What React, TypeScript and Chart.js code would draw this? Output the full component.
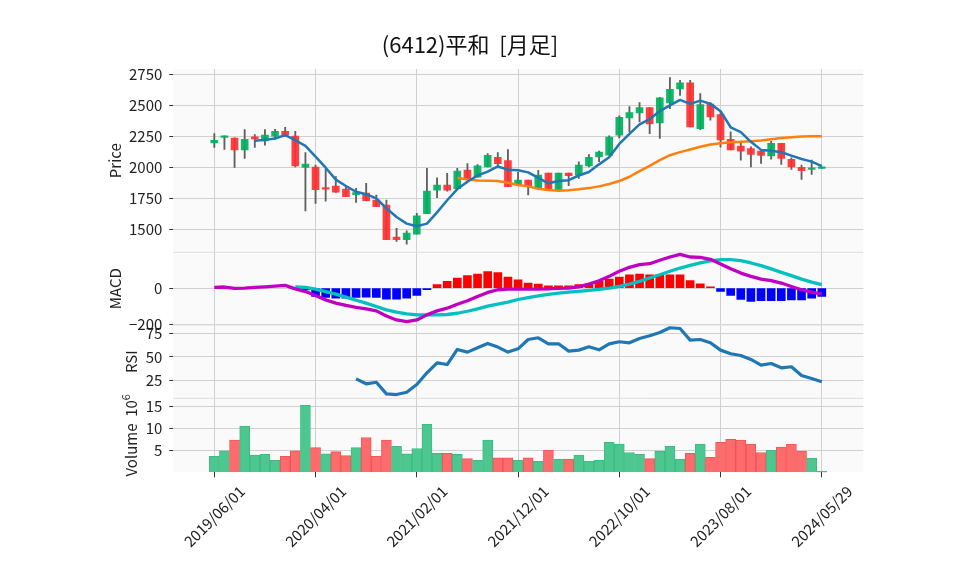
import React, { useEffect, useRef } from 'react';
import { Chart, registerables } from 'chart.js';

Chart.register(...registerables);

const TITLE = '(6412)平和  [月足]';
const xTickIndex = [0, 10, 20, 30, 40, 50, 60];
const xTickLabels = ['2019/06/01', '2020/04/01', '2021/02/01', '2021/12/01', '2022/10/01', '2023/08/01', '2024/05/29'];

const opens = [2199, 2242, 2237, 2142, 2247, 2215, 2253, 2293, 2253, 2000, 2003, 1833, 1849, 1825, 1780, 1793, 1737, 1696, 1438, 1417, 1460, 1626, 1817, 1858, 1828, 1978, 1922, 2005, 2081, 2056, 1858, 1898, 1836, 1954, 1817, 1954, 1938, 2013, 2086, 2099, 2261, 2401, 2441, 2484, 2360, 2521, 2634, 2685, 2314, 2513, 2427, 2228, 2172, 2153, 2132, 2094, 2196, 2065, 2000, 1984, 1992];
const highs = [2274, 2255, 2240, 2306, 2266, 2306, 2309, 2325, 2293, 2121, 2019, 1987, 1927, 1844, 1831, 1871, 1777, 1737, 1508, 1487, 1629, 1992, 1917, 1952, 1992, 2032, 2024, 2113, 2121, 2145, 1960, 1898, 1976, 1954, 1954, 1954, 2046, 2105, 2132, 2255, 2417, 2492, 2524, 2484, 2567, 2726, 2704, 2704, 2597, 2524, 2444, 2288, 2212, 2167, 2132, 2212, 2196, 2078, 2019, 2059, 2005];
const lows = [2161, 2145, 2000, 2073, 2161, 2180, 2228, 2250, 2005, 1648, 1710, 1728, 1798, 1763, 1718, 1731, 1683, 1417, 1401, 1379, 1460, 1626, 1755, 1809, 1828, 1909, 1922, 2005, 1997, 1844, 1858, 1777, 1836, 1817, 1817, 1852, 1911, 2005, 2046, 2099, 2239, 2288, 2368, 2274, 2234, 2476, 2583, 2328, 2306, 2382, 2164, 2142, 2059, 2005, 2032, 2067, 2024, 1984, 1903, 1944, 1992];
const closes = [2220, 2255, 2142, 2228, 2231, 2261, 2293, 2263, 2013, 2027, 1820, 1825, 1801, 1763, 1796, 1731, 1683, 1417, 1417, 1470, 1608, 1809, 1858, 1817, 1970, 1909, 2013, 2099, 2030, 1844, 1898, 1844, 1938, 1817, 1954, 1933, 2019, 2081, 2124, 2245, 2406, 2444, 2484, 2352, 2562, 2632, 2685, 2328, 2508, 2409, 2223, 2142, 2132, 2105, 2097, 2196, 2073, 2005, 1973, 1995, 2005];

const ma5: (number | null)[] = [null, null, null, null, 2215, 2223, 2234, 2261, 2220, 2175, 2088, 1998, 1902, 1850, 1803, 1784, 1750, 1670, 1600, 1546, 1525, 1546, 1637, 1735, 1825, 1885, 1935, 1966, 2008, 1982, 1978, 1960, 1915, 1872, 1891, 1897, 1935, 1963, 2025, 2083, 2190, 2272, 2348, 2390, 2456, 2502, 2546, 2514, 2540, 2514, 2455, 2325, 2285, 2207, 2142, 2135, 2123, 2096, 2068, 2047, 2010];
const ma25: (number | null)[] = [null, null, null, null, null, null, null, null, null, null, null, null, null, null, null, null, null, null, null, null, null, null, null, null, 1917, 1903, 1895, 1892, 1890, 1876, 1858, 1847, 1828, 1817, 1812, 1815, 1823, 1833, 1847, 1866, 1890, 1925, 1970, 2013, 2059, 2099, 2124, 2145, 2167, 2185, 2196, 2204, 2207, 2212, 2218, 2228, 2239, 2245, 2250, 2253, 2253];

const volumes = [3.6, 4.9, 7.3, 10.5, 3.9, 4.1, 2.7, 3.6, 4.9, 15.2, 5.6, 4.2, 4.7, 3.8, 5.6, 7.9, 3.6, 7.3, 5.9, 4.2, 5.4, 10.9, 4.3, 4.3, 4.1, 3.1, 2.7, 7.3, 3.3, 3.3, 2.7, 3.3, 2.5, 5.0, 3.0, 3.0, 3.9, 2.5, 2.7, 6.8, 6.4, 4.5, 4.1, 3.1, 4.8, 5.9, 3.0, 4.3, 6.4, 3.4, 6.8, 7.5, 7.3, 6.4, 4.5, 5.0, 5.7, 6.4, 4.8, 3.2, 0.2];
const volumeUp = [1, 1, 0, 1, 1, 1, 1, 0, 0, 1, 0, 1, 0, 0, 1, 0, 0, 0, 1, 1, 1, 1, 1, 0, 1, 0, 1, 1, 0, 0, 1, 0, 1, 0, 1, 0, 1, 1, 1, 1, 1, 1, 1, 0, 1, 1, 1, 0, 1, 0, 0, 0, 0, 0, 0, 1, 0, 0, 0, 1, 1];

const macdLine: (number | null)[] = [4, 6, -2, 0, 4, 7, 11, 15, -4, -19, -41, -65, -83, -96, -107, -115, -126, -154, -176, -185, -176, -148, -126, -111, -89, -70, -46, -24, -9, -6, -6, -6, -6, -4, -2, 0, 7, 22, 41, 65, 93, 115, 130, 135, 154, 172, 187, 172, 170, 159, 133, 107, 83, 65, 50, 41, 28, 9, -9, -22, -33];
const signalLine: (number | null)[] = [null, null, null, null, null, null, null, null, 7, 4, -6, -19, -33, -50, -67, -83, -102, -120, -133, -143, -148, -148, -148, -146, -139, -128, -115, -100, -88, -78, -63, -52, -43, -35, -28, -22, -18, -13, -7, 0, 9, 22, 37, 56, 74, 93, 111, 126, 139, 150, 157, 157, 152, 139, 124, 106, 87, 69, 50, 33, 19];
const macdHist: (number | null)[] = [null, null, null, null, null, null, null, null, -2, -10, -46, -52, -56, -56, -52, -50, -52, -61, -61, -56, -41, -9, 19, 37, 56, 69, 78, 92, 86, 61, 46, 28, 22, 13, 13, 13, 19, 24, 37, 50, 61, 74, 78, 74, 74, 74, 74, 41, 24, 7, -19, -41, -63, -74, -70, -70, -69, -65, -65, -56, -46];
const rsi: (number | null)[] = [null, null, null, null, null, null, null, null, null, null, null, null, null, null, 26.6, 21.3, 23.0, 10.6, 9.9, 12.4, 20.6, 33.0, 43.6, 41.8, 57.8, 55.0, 59.6, 64.2, 60.3, 55.0, 58.5, 68.4, 70.2, 63.8, 63.8, 56.0, 57.1, 60.6, 57.4, 63.8, 66.0, 64.9, 69.5, 72.3, 75.9, 80.9, 80.1, 67.7, 68.4, 64.9, 57.1, 53.2, 51.4, 47.2, 41.1, 42.9, 38.3, 39.4, 30.1, 27.0, 23.4];

const priceTicks = [1500, 1750, 2000, 2250, 2500, 2750];
const macdTicks = [-200, 0];
const rsiTicks = [25, 50, 75];
const volumeTicks = [5, 10, 15];

const W = 958;
const H = 575;
const PLOT_LEFT = 173.3;
const PLOT_RIGHT = 863.3;
const PLOT_TOP = 69;
const PLOT_BOTTOM = 472.3;
const X_MIN = -4.05;
const X_MAX = 64.1;

const FONT = '"Noto Sans CJK JP", "Noto Sans", sans-serif';
const TICK_SIZE = 15;
const FACE = '#fafafa';
const GRID = '#d0d0d0';
const TICKC = '#333333';
const TEXT = '#222222';
const UP = 'rgba(0,176,96,0.92)';
const DOWN = 'rgba(254,48,50,0.92)';
const WICK = '#606060';
const VUP = '#4dc790';
const VDOWN = '#fd6b6c';
const VUP_EDGE = '#3dbb82';
const VDOWN_EDGE = '#f05656';

function pts(arr: (number | null)[]) {
  const out: { x: number; y: number }[] = [];
  arr.forEach((v, i) => {
    if (v !== null && v !== undefined) out.push({ x: i, y: v });
  });
  return out;
}

function yAxis(ticksArr: number[], min: number, max: number, weight: number) {
  return {
    type: 'linear',
    position: 'left',
    stack: 'panels',
    stackWeight: weight,
    min,
    max,
    afterBuildTicks: (s: any) => {
      s.ticks = ticksArr.map((v) => ({ value: v }));
    },
    afterFit: (s: any) => {
      s.width = PLOT_LEFT;
    },
    grid: { color: GRID, lineWidth: 1, tickColor: TICKC, tickLength: 4, drawTicks: true },
    border: { display: false },
    ticks: {
      padding: 7,
      color: TEXT,
      font: { family: FONT, size: TICK_SIZE },
      callback: (v: any) => String(v).replace('-', '\u2212'),
    },
  };
}

const AXIS_TITLES: Record<string, string> = {
  yPrice: 'Price',
  yMacd: 'MACD',
  yRsi: 'RSI',
  yVol: 'Volume',
};

const decor = {
  id: 'decor',
  beforeDraw(chart: any) {
    const { ctx, chartArea: a } = chart;
    ctx.save();
    ctx.fillStyle = '#ffffff';
    ctx.fillRect(0, 0, chart.width, chart.height);
    ctx.fillStyle = FACE;
    ctx.fillRect(a.left, a.top, a.right - a.left, a.bottom - a.top);
    ctx.restore();
  },
  beforeDatasetsDraw(chart: any) {
    const { ctx, chartArea: a } = chart;
    ctx.save();
    ctx.strokeStyle = '#dedede';
    ctx.lineWidth = 1;
    ['yMacd', 'yRsi', 'yVol'].forEach((id) => {
      const s = chart.scales[id];
      ctx.beginPath();
      ctx.moveTo(a.left, s.top);
      ctx.lineTo(a.right, s.top);
      ctx.stroke();
    });
    ctx.restore();
  },
  afterDraw(chart: any) {
    const { ctx } = chart;
    ctx.save();
    ctx.fillStyle = '#111';
    ctx.font = `22px ${FONT}`;
    ctx.textAlign = 'center';
    ctx.textBaseline = 'middle';
    ctx.fillText(TITLE, 470, 45);

    ctx.font = `${TICK_SIZE}px ${FONT}`;
    Object.keys(AXIS_TITLES).forEach((id) => {
      const s = chart.scales[id];
      if (!s) return;
      let maxW = 0;
      s.ticks.forEach((t: any) => {
        const lbl = String(t.value).replace('-', '\u2212');
        maxW = Math.max(maxW, ctx.measureText(lbl).width);
      });
      const cx = PLOT_LEFT - 11 - maxW - 14;
      const cy = (s.top + s.bottom) / 2;
      ctx.save();
      ctx.translate(cx, cy);
      ctx.rotate(-Math.PI / 2);
      ctx.fillStyle = TEXT;
      ctx.textBaseline = 'middle';
      if (id === 'yVol') {
        const main = 'Volume  10';
        ctx.font = `${TICK_SIZE}px ${FONT}`;
        const mw = ctx.measureText(main).width;
        ctx.font = `${Math.round(TICK_SIZE * 0.7)}px ${FONT}`;
        const sw = ctx.measureText('6').width;
        const total = mw + sw;
        ctx.font = `${TICK_SIZE}px ${FONT}`;
        ctx.textAlign = 'left';
        ctx.fillText(main, -total / 2, 0);
        ctx.font = `${Math.round(TICK_SIZE * 0.7)}px ${FONT}`;
        ctx.fillText('6', -total / 2 + mw, -TICK_SIZE * 0.38);
      } else {
        ctx.textAlign = 'center';
        ctx.fillText(AXIS_TITLES[id], 0, 0);
      }
      ctx.restore();
    });

    const xs = chart.scales.x;
    ctx.font = `${TICK_SIZE}px ${FONT}`;
    ctx.fillStyle = TEXT;
    xTickIndex.forEach((v, k) => {
      const px = xs.getPixelForValue(v);
      const label = xTickLabels[k];
      const w = ctx.measureText(label).width;
      const bb = (w + TICK_SIZE) / Math.SQRT2;
      ctx.save();
      ctx.translate(px, PLOT_BOTTOM + 11 + bb / 2);
      ctx.rotate(-Math.PI / 4);
      ctx.textAlign = 'center';
      ctx.textBaseline = 'middle';
      ctx.fillText(label, 0, 0);
      ctx.restore();
    });
    ctx.restore();
  },
};

export default function App() {
  const ref = useRef<HTMLCanvasElement>(null);

  useEffect(() => {
    const canvas = ref.current;
    if (!canvas) return;

    const bodyColors = opens.map((o, i) => (closes[i] >= o ? UP : DOWN));
    const histPts = pts(macdHist);
    const histColors = histPts.map((p) => (p.y >= 0 ? '#ff0000' : '#0000ff'));
    const volPts = volumes.map((v, i) => ({ x: i, y: v }));

    const line = (label: string, data: (number | null)[], axis: string, color: string, width: number, order: number) => ({
      type: 'line',
      label,
      data: pts(data),
      yAxisID: axis,
      borderColor: color,
      borderWidth: width,
      pointRadius: 0,
      tension: 0,
      borderJoinStyle: 'round',
      order,
    });

    const datasets: any[] = [
      line('RSI', rsi, 'yRsi', '#1f77b4', 3.2, 1),
      line('MACD', macdLine, 'yMacd', '#c000c0', 3.3, 1),
      line('Signal', signalLine, 'yMacd', '#00c0c0', 3.3, 1),
      line('MA5', ma5, 'yPrice', '#1f77b4', 2.5, 2),
      line('MA25', ma25, 'yPrice', '#ff7f0e', 2.5, 2),
      {
        type: 'bar',
        label: 'body',
        data: opens.map((o, i) => ({ x: i, y: [o, closes[i]] })),
        yAxisID: 'yPrice',
        backgroundColor: bodyColors,
        borderWidth: 0,
        barThickness: 7,
        minBarLength: 1.5,
        grouped: false,
        order: 4,
      },
      {
        type: 'bar',
        label: 'wick',
        data: highs.map((h, i) => ({ x: i, y: [lows[i], h] })),
        yAxisID: 'yPrice',
        backgroundColor: WICK,
        borderWidth: 0,
        barThickness: 1.2,
        grouped: false,
        order: 5,
      },
      {
        type: 'bar',
        label: 'hist',
        data: histPts,
        yAxisID: 'yMacd',
        backgroundColor: histColors,
        borderWidth: 0,
        barThickness: 8,
        grouped: false,
        order: 6,
      },
      {
        type: 'bar',
        label: 'Volume',
        data: volPts,
        yAxisID: 'yVol',
        backgroundColor: volumeUp.map((u) => (u ? VUP : VDOWN)),
        borderColor: volumeUp.map((u) => (u ? VUP_EDGE : VDOWN_EDGE)),
        borderWidth: 1,
        borderSkipped: 'bottom',
        barThickness: 10,
        grouped: false,
        order: 7,
      },
    ];

    const chart = new Chart(canvas, {
      type: 'line',
      data: { datasets },
      plugins: [decor],
      options: {
        responsive: false,
        animation: false,
        devicePixelRatio: 1,
        events: [],
        layout: {
          padding: { top: PLOT_TOP, right: W - PLOT_RIGHT, left: 0, bottom: 0 },
        },
        plugins: {
          legend: { display: false },
          title: { display: false },
          tooltip: { enabled: false },
        },
        scales: {
          x: {
            type: 'linear',
            min: X_MIN,
            max: X_MAX,
            offset: false,
            afterBuildTicks: (s: any) => {
              s.ticks = xTickIndex.map((v) => ({ value: v }));
            },
            afterFit: (s: any) => {
              s.height = H - PLOT_BOTTOM;
            },
            grid: { color: GRID, lineWidth: 1, tickColor: TICKC, tickLength: 5, offset: false },
            border: { display: false },
            ticks: { display: false },
          },
          // stacked panels are laid out bottom-up in declaration order
          yVol: yAxis(volumeTicks, 0, 16.8, 74),
          yRsi: yAxis(rsiTicks, 5.9, 83.8, 73.3),
          yMacd: yAxis(macdTicks, -204, 198, 72.7),
          yPrice: yAxis(priceTicks, 1314, 2796, 183.3),
        } as any,
      } as any,
    });

    return () => chart.destroy();
  }, []);

  return (
    <canvas
      ref={ref}
      width={W}
      height={H}
      style={{ position: 'fixed', left: 0, top: 0, width: W, height: H, display: 'block' }}
    />
  );
}
